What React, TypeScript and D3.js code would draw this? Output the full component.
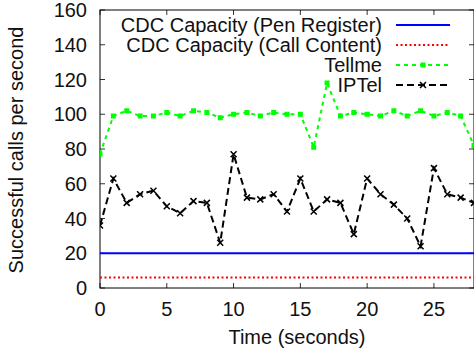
import React from "react";
import * as d3 from "d3";

const times = d3.range(0, 29);
const tellme = [77, 99, 102, 99, 99, 101, 99, 102, 101, 98, 100, 101, 99, 101, 100, 100, 81, 118, 99, 101, 100, 99, 102, 99, 102, 99, 101, 99, 82];
const iptel = [36, 63, 49, 54, 56, 47, 43, 50, 49, 26, 77, 52, 51, 54, 44, 63, 44, 51, 49, 31, 63, 54, 48, 40, 24, 69, 54, 52, 49];
const penRegister = 20;
const callContent = 6;
const xTicks = [0, 5, 10, 15, 20, 25];
const yTicks = [0, 20, 40, 60, 80, 100, 120, 140, 160];
const legendLabels = ["CDC Capacity (Pen Register)", "CDC Capacity (Call Content)", "Tellme", "IPTel"];

const W = 474, H = 353;
const L = 100, R = 474, T = 10, B = 288;
const FONT = "'Liberation Sans', Arial, Helvetica, sans-serif";

export default function App() {
  const x = d3.scaleLinear().domain([0, 28]).range([L, R]);
  const y = d3.scaleLinear().domain([0, 160]).range([B, T]);
  const line = d3.line<number>().x((_, i) => x(times[i])).y((d) => y(d));
  const tk = 5;

  const legendY = [25, 45, 65, 85];
  const lx0 = 396, lx1 = 450, ltx = 382;

  const square = (cx: number, cy: number, k: string) => (
    <rect key={k} x={cx - 2.5} y={cy - 2.5} width={5} height={5} fill="#00ff00" />
  );
  const cross = (cx: number, cy: number, k: string) => (
    <path key={k} d={`M${cx - 3},${cy - 3}L${cx + 3},${cy + 3}M${cx - 3},${cy + 3}L${cx + 3},${cy - 3}`} stroke="#000" strokeWidth={1.5} />
  );

  return (
    <svg width={W} height={H} style={{ position: "absolute", left: 0, top: 0, background: "#fff" }} fontFamily={FONT}>
      <defs>
        <clipPath id="plot">
          <rect x={L} y={T - 5} width={R - L + 5} height={B - T + 5} />
        </clipPath>
      </defs>
      {/* ticks */}
      {yTicks.map((t) => (
        <g key={"y" + t}>
          <line x1={L} x2={L + tk} y1={y(t)} y2={y(t)} stroke="#333" strokeWidth={1} />
          <line x1={R} x2={R - tk} y1={y(t)} y2={y(t)} stroke="#333" strokeWidth={1} />
          <text x={87} y={y(t) + 7} fontSize={20} textAnchor="end" fill="#111">{t}</text>
        </g>
      ))}
      {xTicks.map((t) => (
        <g key={"x" + t}>
          <line x1={x(t)} x2={x(t)} y1={B} y2={B - tk} stroke="#333" strokeWidth={1} />
          <line x1={x(t)} x2={x(t)} y1={T} y2={T + tk} stroke="#333" strokeWidth={1} />
          <text x={x(t)} y={316} fontSize={20} textAnchor="middle" fill="#111">{t}</text>
        </g>
      ))}
      {/* frame */}
      <rect x={L} y={T} width={R - L} height={B - T} fill="none" stroke="#000" strokeWidth={1} />
      {/* axis labels */}
      <text x={(L + R) / 2 + 10} y={344} fontSize={20} textAnchor="middle" fill="#111">Time (seconds)</text>
      <text transform={`translate(23,150) rotate(-90)`} fontSize={20} textAnchor="middle" fill="#111">Successful calls per second</text>

      <g clipPath="url(#plot)">
        <line x1={L} x2={R} y1={y(penRegister)} y2={y(penRegister)} stroke="#0000ff" strokeWidth={2} />
        <line x1={L} x2={R} y1={y(callContent)} y2={y(callContent)} stroke="#ff0000" strokeWidth={2} strokeDasharray="2,2.5" />
        <path d={line(tellme) || ""} fill="none" stroke="#00ff00" strokeWidth={2} strokeDasharray="4,4" />
        {tellme.map((v, i) => square(x(times[i]), y(v), "s" + i))}
        <path d={line(iptel) || ""} fill="none" stroke="#000" strokeWidth={2} strokeDasharray="7,4" />
        {iptel.map((v, i) => cross(x(times[i]), y(v), "c" + i))}
      </g>

      {/* legend */}
      {legendLabels.map((lab, i) => (
        <text key={"lt" + i} x={ltx} y={legendY[i] + 7} fontSize={20} textAnchor="end" fill="#111">{lab}</text>
      ))}
      <line x1={lx0} x2={lx1} y1={legendY[0]} y2={legendY[0]} stroke="#0000ff" strokeWidth={2} />
      <line x1={lx0} x2={lx1} y1={legendY[1]} y2={legendY[1]} stroke="#ff0000" strokeWidth={2} strokeDasharray="2,2.5" />
      <line x1={lx0} x2={lx1} y1={legendY[2]} y2={legendY[2]} stroke="#00ff00" strokeWidth={2} strokeDasharray="4,4" />
      {square((lx0 + lx1) / 2, legendY[2], "ls")}
      <line x1={lx0} x2={lx1} y1={legendY[3]} y2={legendY[3]} stroke="#000" strokeWidth={2} strokeDasharray="7,4" />
      {cross((lx0 + lx1) / 2, legendY[3], "lc")}
    </svg>
  );
}
